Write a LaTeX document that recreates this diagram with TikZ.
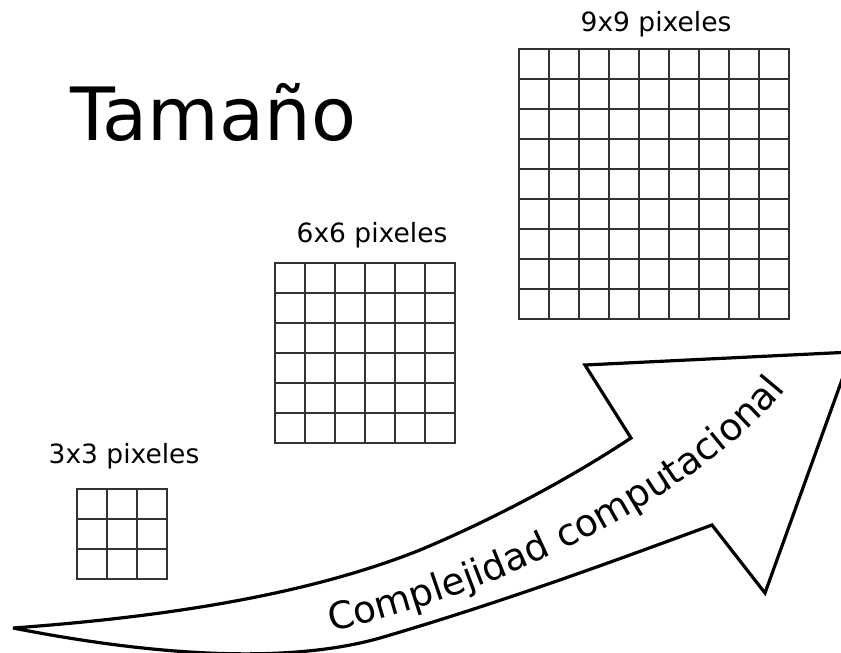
\documentclass[tikz,border=0pt]{standalone}
\usepackage{fontspec}
\setmainfont{DejaVu Sans}
\usetikzlibrary{decorations.text}
\begin{document}
\begin{tikzpicture}[x=1pt,y=-1pt,
  gridline/.style={draw=black!80,line width=1.2pt},
  gridbox/.style={draw=black!80,line width=1.2pt,anchor=north west,inner sep=0pt,outer sep=0pt},
  lbl/.style={font=\fontsize{26.5}{30}\selectfont,anchor=base,inner sep=0pt},
  arrowshape/.style={draw=black,line width=3.2pt,fill=white,line join=miter,miter limit=4}]
\useasboundingbox (0,0) rectangle (841,653);
\clip (0,0) rectangle (841,653);

% title
\node[font=\fontsize{73.5}{80}\selectfont,anchor=base,inner sep=0pt] (title) at (213,140) {Tamaño};

% 9x9 grid
\node[gridbox,minimum width=270pt,minimum height=270pt] (g9) at (519,49) {};
\foreach \i in {1,...,8} {
  \draw[gridline] (519+\i*30,49) -- (519+\i*30,319);
  \draw[gridline] (519,49+\i*30) -- (789,49+\i*30);
}
\node[lbl] (t9) at (656,31) {9x9 pixeles};

% 6x6 grid
\node[gridbox,minimum width=180pt,minimum height=180pt] (g6) at (275,263) {};
\foreach \i in {1,...,5} {
  \draw[gridline] (275+\i*30,263) -- (275+\i*30,443);
  \draw[gridline] (275,263+\i*30) -- (455,263+\i*30);
}
\node[lbl] (t6) at (372,242) {6x6 pixeles};

% 3x3 grid
\node[gridbox,minimum width=90pt,minimum height=90pt] (g3) at (77,489) {};
\foreach \i in {1,2} {
  \draw[gridline] (77+\i*30,489) -- (77+\i*30,579);
  \draw[gridline] (77,489+\i*30) -- (167,489+\i*30);
}
\node[lbl] (t3) at (124,463) {3x3 pixeles};

% big curved arrow
\draw[arrowshape] (13,628) .. controls (150,618) and (300,598) .. (420,550)
  .. controls (480,525) and (560,485) .. (631,438)
  -- (585,365) -- (852,352) -- (765,593) -- (712,525)
  .. controls (630,555) and (510,600) .. (380,638)
  .. controls (260,672) and (90,643) .. (13,628) -- cycle;

\path[decorate,decoration={text along path,
  text={|\fontsize{37.5}{38}\selectfont|Complejidad computacional},text align=left}]
  (331,631) .. controls (500,595) and (700,495) .. (785,390) -- (810,360);
\end{tikzpicture}
\end{document}
